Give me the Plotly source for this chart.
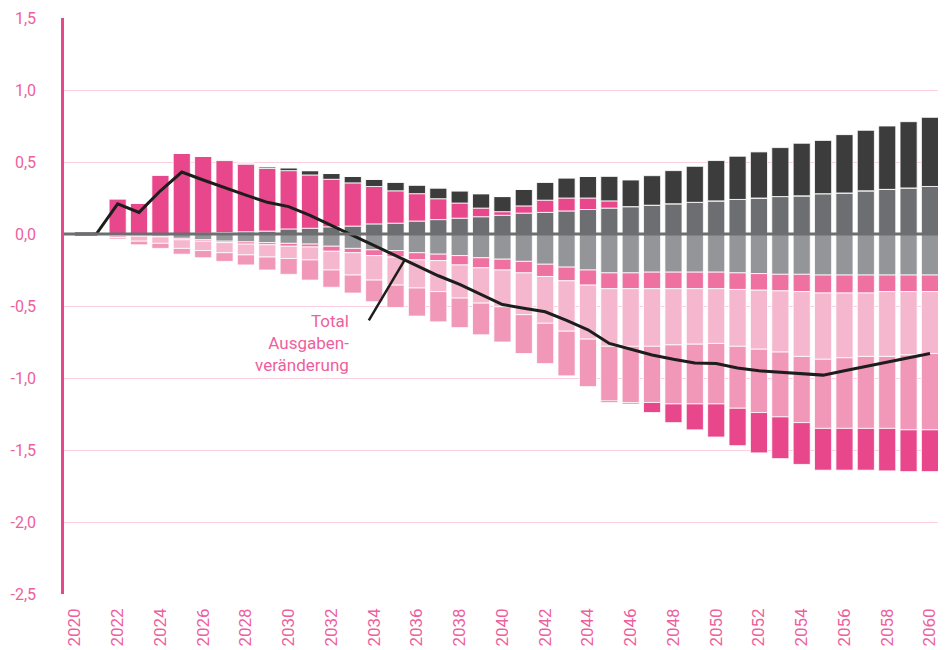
import plotly.graph_objects as go

years = list(range(2020, 2061))

# positive components
pos_gray = [0, 0, 0, 0, 0, 0, 0.005, 0.01, 0.015, 0.02, 0.035, 0.04, 0.05, 0.055, 0.07, 0.075, 0.09, 0.10, 0.11, 0.12,
            0.13, 0.145, 0.15, 0.16, 0.17, 0.18, 0.19, 0.20, 0.21, 0.22, 0.23, 0.24, 0.25, 0.26, 0.265, 0.28, 0.285,
            0.30, 0.31, 0.32, 0.33]
pos_pink = [0, 0, 0.245, 0.215, 0.41, 0.56, 0.535, 0.50, 0.47, 0.435, 0.405, 0.37, 0.33, 0.30, 0.26, 0.225, 0.19, 0.145,
            0.105, 0.06, 0.025, 0.05, 0.085, 0.09, 0.08, 0.05, 0, 0, 0, 0, 0, 0, 0, 0, 0, 0, 0, 0, 0, 0, 0]
pos_dark = [0, 0, 0, 0, 0, 0, 0, 0.005, 0.007, 0.012, 0.02, 0.03, 0.04, 0.045, 0.05, 0.06, 0.06, 0.075, 0.085, 0.10,
            0.105, 0.115, 0.125, 0.14, 0.15, 0.17, 0.185, 0.205, 0.23, 0.25, 0.28, 0.30, 0.32, 0.34, 0.365, 0.37,
            0.405, 0.42, 0.44, 0.46, 0.48]

# negative components
neg_gray = [0, 0, -0.005, -0.01, -0.015, -0.03, -0.04, -0.05, -0.055, -0.06, -0.065, -0.07, -0.085, -0.10, -0.11,
            -0.115, -0.13, -0.14, -0.15, -0.165, -0.175, -0.19, -0.21, -0.23, -0.25, -0.27, -0.27, -0.265, -0.265,
            -0.265, -0.265, -0.27, -0.275, -0.28, -0.28, -0.285, -0.285, -0.285, -0.285, -0.285, -0.285]
neg_rose = [0, 0, -0.005, -0.005, -0.005, -0.01, -0.01, -0.01, -0.015, -0.015, -0.02, -0.02, -0.035, -0.03, -0.04,
            -0.045, -0.05, -0.045, -0.065, -0.07, -0.075, -0.08, -0.085, -0.095, -0.105, -0.11, -0.11, -0.115,
            -0.115, -0.115, -0.115, -0.115, -0.115, -0.115, -0.12, -0.125, -0.125, -0.125, -0.115, -0.115, -0.115]
neg_light = [0, 0, -0.015, -0.035, -0.045, -0.06, -0.065, -0.07, -0.075, -0.085, -0.085, -0.09, -0.13, -0.155, -0.17,
             -0.195, -0.195, -0.215, -0.23, -0.245, -0.255, -0.29, -0.325, -0.35, -0.375, -0.40, -0.40, -0.40, -0.39,
             -0.385, -0.38, -0.395, -0.41, -0.425, -0.45, -0.46, -0.45, -0.44, -0.45, -0.44, -0.43]
neg_mid = [0, 0, -0.01, -0.025, -0.035, -0.04, -0.05, -0.06, -0.07, -0.09, -0.11, -0.14, -0.12, -0.125, -0.15, -0.155,
           -0.195, -0.21, -0.205, -0.22, -0.245, -0.27, -0.28, -0.31, -0.33, -0.38, -0.39, -0.39, -0.41, -0.415,
           -0.42, -0.43, -0.44, -0.45, -0.46, -0.48, -0.49, -0.50, -0.50, -0.52, -0.53]
neg_strong = [0, 0, 0, 0, 0, 0, 0, 0, 0, 0, 0, 0, 0, 0, 0, 0, 0, 0, 0, 0, 0, 0, 0, 0, 0, -0.01, -0.01, -0.07, -0.13,
              -0.18, -0.23, -0.26, -0.28, -0.29, -0.29, -0.29, -0.29, -0.29, -0.295, -0.29, -0.29]

total = [0, 0, 0.21, 0.15, 0.30, 0.43, 0.375, 0.32, 0.27, 0.22, 0.19, 0.13, 0.06, -0.01, -0.08, -0.15, -0.22, -0.29,
         -0.35, -0.42, -0.49, -0.515, -0.54, -0.60, -0.665, -0.76, -0.80, -0.84, -0.87, -0.895, -0.90, -0.93, -0.95,
         -0.96, -0.97, -0.98, -0.95, -0.92, -0.89, -0.86, -0.83]

ytick_vals = [1.5, 1.0, 0.5, 0.0, -0.5, -1.0, -1.5, -2.0, -2.5]
ytick_text = ["1,5", "1,0", "0,5", "0,0", "-0,5", "-1,0", "-1,5", "-2,0", "-2,5"]
xtick_vals = list(range(2020, 2061, 2))

label_text = "Total<br>Ausgaben-<br>veränderung"

PINK_TXT = "#ee5f9d"
FONT = "Roboto, 'Open Sans', sans-serif"

fig = go.Figure()

bar_series = [
    (pos_gray, "#6d6e71"),
    (pos_pink, "#e8478b"),
    (pos_dark, "#3c3c3c"),
    (neg_gray, "#939598"),
    (neg_rose, "#ef71a1"),
    (neg_light, "#f5b7cd"),
    (neg_mid, "#f197b8"),
    (neg_strong, "#e8478b"),
]
for vals, col in bar_series:
    fig.add_trace(go.Bar(x=years, y=vals, marker=dict(color=col, line=dict(color="white", width=0.8)),
                         width=0.8, showlegend=False, hoverinfo="skip"))

fig.add_trace(go.Scatter(x=years, y=total, mode="lines", line=dict(color="#1d1d1b", width=3),
                         showlegend=False))

# zero line
fig.add_shape(type="line", xref="paper", x0=0, x1=0.995, yref="y", y0=0, y1=0,
              line=dict(color="#6d6e71", width=3), layer="above")

# annotation and leader line
ann_x, ann_y = 2032.9, -0.76
fig.add_annotation(x=ann_x, y=ann_y, text=label_text, showarrow=False, xanchor="right", yanchor="middle",
                   align="right", font=dict(family=FONT, size=17, color=PINK_TXT))
fig.add_shape(type="line", x0=ann_x + 0.85, y0=ann_y + 0.16, x1=2035.45, y1=-0.175,
              line=dict(color="#1d1d1b", width=2.5), layer="above")

fig.update_layout(
    width=938, height=642,
    margin=dict(l=56, r=0, t=10, b=56),
    paper_bgcolor="white", plot_bgcolor="white",
    barmode="relative", bargap=0.2,
    font=dict(family=FONT, color=PINK_TXT),
    xaxis=dict(range=[2019.49, 2060.75], tickvals=xtick_vals, tickangle=-90, showgrid=False,
               showline=False, zeroline=False, ticks="", automargin=False, ticklabelstandoff=10,
               tickfont=dict(size=17, color=PINK_TXT)),
    yaxis=dict(range=[-2.5, 1.5], tickvals=ytick_vals, ticktext=ytick_text, showgrid=True,
               gridcolor="#fbd0e1", gridwidth=1, zeroline=False, showline=True, linecolor="#e8478b",
               linewidth=2.5, ticks="", ticklabelstandoff=22, automargin=False,
               tickfont=dict(size=16, color=PINK_TXT)),
)

fig.write_html("out.html")
